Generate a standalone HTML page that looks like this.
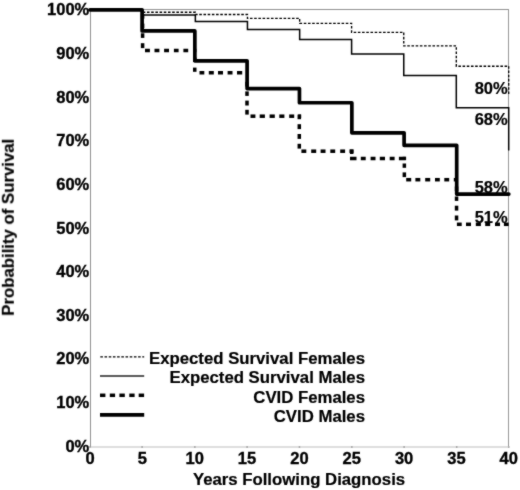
<!DOCTYPE html>
<html><head><meta charset="utf-8"><style>
html,body{margin:0;padding:0;background:#fff;}
body{width:520px;height:490px;overflow:hidden;}
svg{display:block;}

text{font-family:"Liberation Sans",sans-serif;font-weight:bold;fill:#000;stroke:#000;stroke-width:0.2px;}
.tk text{stroke-width:0.35px;}
</style></head><body><div id="w">
<svg width="520" height="490" viewBox="0 0 520 490">
<defs><filter id="bl" color-interpolation-filters="sRGB" x="0" y="0" width="520" height="490" filterUnits="userSpaceOnUse"><feConvolveMatrix order="3" kernelMatrix="1 2 1 2 20 2 1 2 1" divisor="32" edgeMode="duplicate" preserveAlpha="false"/></filter></defs>
<g filter="url(#bl)">
<rect x="0" y="0" width="520" height="490" fill="#fff"/>
<rect x="90" y="9" width="419" height="1" fill="#929292"/>
<rect x="508" y="9" width="1" height="438" fill="#989898"/>
<rect x="90" y="446" width="419" height="2" fill="#dedede"/>
<rect x="90" y="9" width="1" height="438" fill="#909090"/>
<g fill="#999"><rect x="89.25" y="446.2" width="1.5" height="1.6"/><rect x="141.35" y="446.2" width="1.5" height="1.6"/><rect x="194.10" y="446.2" width="1.5" height="1.6"/><rect x="246.35" y="446.2" width="1.5" height="1.6"/><rect x="298.70" y="446.2" width="1.5" height="1.6"/><rect x="351.10" y="446.2" width="1.5" height="1.6"/><rect x="403.35" y="446.2" width="1.5" height="1.6"/><rect x="455.95" y="446.2" width="1.5" height="1.6"/><rect x="508.05" y="446.2" width="1.5" height="1.6"/></g>
<g font-size="16.5" text-anchor="end" class="tk">
<text x="89.3" y="451.60">0%</text>
<text x="89.3" y="407.98">10%</text>
<text x="89.3" y="364.36">20%</text>
<text x="89.3" y="320.74">30%</text>
<text x="89.3" y="277.12">40%</text>
<text x="89.3" y="233.50">50%</text>
<text x="89.3" y="189.88">60%</text>
<text x="89.3" y="146.26">70%</text>
<text x="89.3" y="102.64">80%</text>
<text x="89.3" y="59.02">90%</text>
<text x="89.3" y="15.40">100%</text>
</g>
<g font-size="16.5" text-anchor="middle" class="tk">
<text x="90.00" y="463.6">0</text>
<text x="142.35" y="463.6">5</text>
<text x="194.70" y="463.6">10</text>
<text x="247.05" y="463.6">15</text>
<text x="299.40" y="463.6">20</text>
<text x="351.75" y="463.6">25</text>
<text x="404.10" y="463.6">30</text>
<text x="456.45" y="463.6">35</text>
<text x="508.80" y="463.6">40</text>
</g>
<path d="M90.00 9.80 H142.30 V12.20 H195.35 V14.50 H247.45 V18.40 H299.65 V23.40 H351.60 V32.30 H403.75 V45.90 H456.30 V66.20 H508.70 V94.20" fill="none" stroke="#000" stroke-width="1.35" stroke-dasharray="2.6 1.6" stroke-dashoffset="-0.55"/>
<path d="M90.00 9.80 H142.30 V14.90 H195.35 V21.40 H247.45 V29.40 H299.65 V39.50 H351.60 V54.10 H403.75 V75.50 H456.30 V107.70 H508.70 V150.50" fill="none" stroke="#000" stroke-width="1.5"/>
<g fill="#000"><rect x="145.00" y="48.75" width="4.90" height="3.50"/><rect x="154.50" y="48.75" width="4.90" height="3.50"/><rect x="164.10" y="48.75" width="4.90" height="3.50"/><rect x="173.90" y="48.75" width="4.70" height="3.50"/><rect x="183.40" y="48.75" width="4.80" height="3.50"/><rect x="193.00" y="48.75" width="3.40" height="3.50"/><rect x="199.50" y="71.00" width="4.80" height="3.50"/><rect x="208.80" y="71.00" width="5.00" height="3.50"/><rect x="218.00" y="71.00" width="5.00" height="3.50"/><rect x="227.60" y="71.00" width="4.90" height="3.50"/><rect x="237.00" y="71.00" width="5.20" height="3.50"/><rect x="250.50" y="114.45" width="4.90" height="3.50"/><rect x="259.70" y="114.45" width="5.20" height="3.50"/><rect x="269.60" y="114.45" width="5.20" height="3.50"/><rect x="279.30" y="114.45" width="5.10" height="3.50"/><rect x="289.20" y="114.45" width="5.00" height="3.50"/><rect x="298.20" y="114.45" width="2.95" height="3.50"/><rect x="301.40" y="149.45" width="4.90" height="3.50"/><rect x="311.20" y="149.45" width="5.00" height="3.50"/><rect x="320.60" y="149.45" width="4.90" height="3.50"/><rect x="330.30" y="149.45" width="4.90" height="3.50"/><rect x="340.20" y="149.45" width="4.90" height="3.50"/><rect x="349.50" y="149.45" width="4.00" height="3.50"/><rect x="350.00" y="156.75" width="6.50" height="3.50"/><rect x="360.80" y="156.75" width="4.90" height="3.50"/><rect x="370.60" y="156.75" width="4.90" height="3.50"/><rect x="379.80" y="156.75" width="5.20" height="3.50"/><rect x="389.70" y="156.75" width="4.90" height="3.50"/><rect x="398.90" y="156.75" width="6.95" height="3.50"/><rect x="406.20" y="177.95" width="5.00" height="3.50"/><rect x="415.40" y="177.95" width="4.90" height="3.50"/><rect x="425.20" y="177.95" width="5.00" height="3.50"/><rect x="435.00" y="177.95" width="4.80" height="3.50"/><rect x="444.30" y="177.95" width="4.90" height="3.50"/><rect x="453.80" y="177.95" width="2.20" height="3.50"/><rect x="456.90" y="222.55" width="4.80" height="3.50"/><rect x="466.00" y="222.55" width="5.00" height="3.50"/><rect x="475.80" y="222.55" width="5.10" height="3.50"/><rect x="485.20" y="222.55" width="5.00" height="3.50"/><rect x="495.00" y="222.55" width="5.00" height="3.50"/><rect x="503.90" y="222.55" width="4.80" height="3.50"/><rect x="140.85" y="14.00" width="3.50" height="4.60"/><rect x="140.85" y="23.60" width="3.50" height="4.70"/><rect x="140.85" y="33.30" width="3.50" height="4.60"/><rect x="140.85" y="43.20" width="3.50" height="4.90"/><rect x="193.00" y="57.50" width="3.50" height="4.50"/><rect x="193.00" y="67.60" width="3.50" height="4.20"/><rect x="245.25" y="81.80" width="3.50" height="4.70"/><rect x="245.25" y="91.40" width="3.50" height="4.50"/><rect x="245.25" y="100.60" width="3.50" height="4.90"/><rect x="245.25" y="109.80" width="3.50" height="4.80"/><rect x="297.55" y="114.60" width="3.50" height="4.60"/><rect x="297.55" y="124.20" width="3.50" height="4.90"/><rect x="297.55" y="134.00" width="3.50" height="4.90"/><rect x="297.55" y="143.80" width="3.50" height="4.80"/><rect x="349.95" y="149.50" width="3.50" height="4.50"/><rect x="402.60" y="156.80" width="3.50" height="3.20"/><rect x="402.60" y="163.50" width="3.50" height="4.30"/><rect x="402.60" y="172.40" width="3.50" height="4.70"/><rect x="454.80" y="186.50" width="3.50" height="4.50"/><rect x="454.80" y="196.50" width="3.50" height="4.40"/><rect x="454.80" y="205.70" width="3.50" height="4.90"/><rect x="454.80" y="215.50" width="3.50" height="4.90"/></g>
<path d="M90.00 9.80 H142.10 V30.95 H194.85 V60.85 H247.10 V88.60 H299.45 V102.75 H351.85 V132.80 H404.10 V145.30 H456.70 V194.10 H508.80" fill="none" stroke="#000" stroke-width="3.7" stroke-linejoin="round" stroke-linecap="round"/>
<g font-size="16.5" text-anchor="end">
<text x="507.7" y="94">80%</text>
<text x="507.7" y="124.7">68%</text>
<text x="507.7" y="193.4">58%</text>
<text x="507.7" y="223.4">51%</text>
</g>
<line x1="100" y1="356.8" x2="144.2" y2="356.8" stroke="#000" stroke-width="1.35" stroke-dasharray="2.6 1.6" stroke-dashoffset="-0.3"/>
<line x1="100" y1="376" x2="144.2" y2="376" stroke="#222" stroke-width="1.3"/>
<g fill="#000"><rect x="100.0" y="393.55" width="5.4" height="3.5"/><rect x="109.8" y="393.55" width="5.3" height="3.5"/><rect x="119.4" y="393.55" width="5.4" height="3.5"/><rect x="129.3" y="393.55" width="5.3" height="3.5"/><rect x="138.7" y="393.55" width="5.4" height="3.5"/></g>
<line x1="100" y1="414.9" x2="144.2" y2="414.9" stroke="#000" stroke-width="3.6"/>
<g font-size="16.75" text-anchor="end">
<text x="365" y="363.8">Expected Survival Females</text>
<text x="365" y="383.1">Expected Survival Males</text>
<text x="365" y="402.5">CVID Females</text>
<text x="365" y="421.8">CVID Males</text>
</g>
<text font-size="16.75" x="299" y="484.8" text-anchor="middle">Years Following Diagnosis</text>
<text font-size="16.75" transform="translate(13.8 227.3) rotate(-90)" text-anchor="middle">Probability of Survival</text>
</g></svg></div>
</body></html>
